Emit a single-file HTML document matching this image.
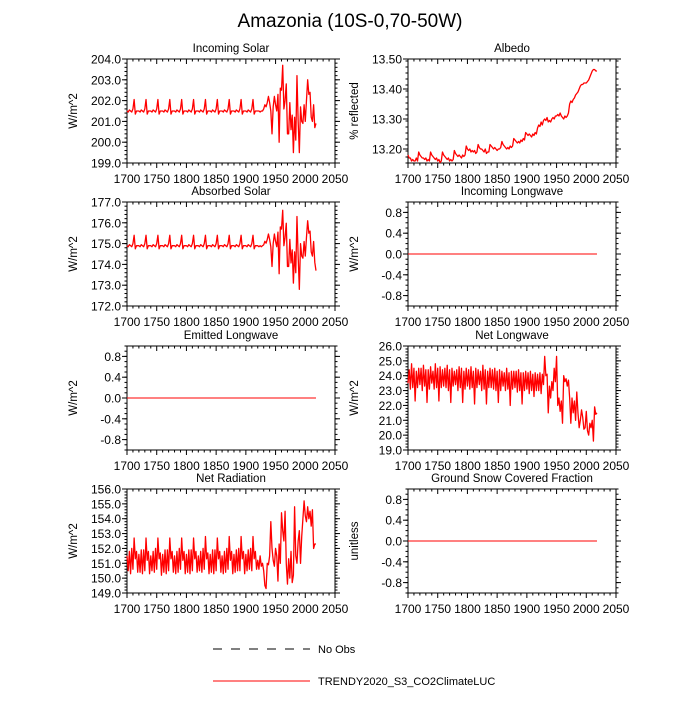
<!DOCTYPE html>
<html><head><meta charset="utf-8"><style>
body{margin:0;background:#fff}
svg text{font-family:"Liberation Sans",sans-serif;fill:#000}
</style></head><body>
<svg id="c" width="700" height="700" xmlns="http://www.w3.org/2000/svg">
<text x="350" y="27" font-size="19" text-anchor="middle">Amazonia (10S-0,70-50W)</text>
<g>
<line x1="213" y1="649" x2="310" y2="649" stroke="#000" stroke-width="1" stroke-dasharray="9,9"/>
<text x="318" y="653" font-size="11">No Obs</text>
<line x1="213" y1="681" x2="310" y2="681" stroke="#f00" stroke-width="1"/>
<text x="318" y="685" font-size="11">TRENDY2020_S3_CO2ClimateLUC</text>
</g>
</svg>
<script>
const incomingSolar=[
201.5,201.45,201.55,201.5,201.45,201.6,202.05,201.35,201.5,201.5,
201.5,201.45,201.55,201.5,201.45,201.6,202.05,201.35,201.5,201.5,
201.5,201.45,201.55,201.5,201.45,201.6,202.05,201.35,201.5,201.5,
201.5,201.45,201.55,201.5,201.45,201.6,202.05,201.35,201.5,201.5,
201.5,201.45,201.55,201.5,201.45,201.6,202.05,201.35,201.5,201.5,
201.5,201.45,201.55,201.5,201.45,201.6,202.05,201.35,201.5,201.5,
201.5,201.45,201.55,201.5,201.45,201.6,202.05,201.35,201.5,201.5,
201.5,201.45,201.55,201.5,201.45,201.6,202.05,201.35,201.5,201.5,
201.5,201.45,201.55,201.5,201.45,201.6,202.05,201.35,201.5,201.5,
201.5,201.45,201.55,201.5,201.45,201.6,202.05,201.35,201.5,201.5,
201.5,201.45,201.55,201.5,201.45,201.6,202.05,201.35,201.5,201.5,
201.5,201.5,201.45,201.5,201.5,
201.6,201.8,201.7,201.9,202.2,201.9,201.5,200.4,201.7,202.2,201.8,201.5,202.3,200.0,202.6,202.5,203.7,201.6,202.0,202.8,200.4,200.4,201.9,200.6,201.3,199.5,201.2,200.1,203.2,201.0,199.5,201.7,201.0,200.9,201.8,201.0,202.0,203.0,202.3,202.4,201.2,201.0,201.8,200.7,200.9];
const absorbedSolar=[
174.9,174.85,174.95,174.9,174.85,175.0,175.4,174.75,174.9,174.9,
174.9,174.85,174.95,174.9,174.85,175.0,175.4,174.75,174.9,174.9,
174.9,174.85,174.95,174.9,174.85,175.0,175.4,174.75,174.9,174.9,
174.9,174.85,174.95,174.9,174.85,175.0,175.4,174.75,174.9,174.9,
174.9,174.85,174.95,174.9,174.85,175.0,175.4,174.75,174.9,174.9,
174.9,174.85,174.95,174.9,174.85,175.0,175.4,174.75,174.9,174.9,
174.9,174.85,174.95,174.9,174.85,175.0,175.4,174.75,174.9,174.9,
174.9,174.85,174.95,174.9,174.85,175.0,175.4,174.75,174.9,174.9,
174.9,174.85,174.95,174.9,174.85,175.0,175.4,174.75,174.9,174.9,
174.9,174.85,174.95,174.9,174.85,175.0,175.4,174.75,174.9,174.9,
174.9,174.85,174.95,174.9,174.85,175.0,175.4,174.75,174.9,174.9,
174.9,174.85,174.9,174.85,174.9,
174.94,175.11,175.02,175.2,175.46,175.2,174.85,173.9,175.0,175.46,175.1,174.85,175.55,173.55,175.8,175.7,176.6,174.9,175.3,175.98,173.9,173.9,175.2,174.07,174.7,173.1,174.6,173.6,176.3,174.4,172.8,175.0,174.4,174.3,175.1,174.4,175.3,176.1,175.5,175.6,174.6,174.4,175.1,174.1,173.7];
const albedo=[
13.18,13.17,13.17,13.16,13.165,13.16,13.16,13.17,13.16,
13.19,13.18,13.175,13.17,13.17,13.165,13.17,13.16,13.165,13.16,
13.19,13.18,13.175,13.17,13.165,13.17,13.16,13.165,13.155,13.16,
13.19,13.18,13.175,13.17,13.165,13.17,13.16,13.165,13.16,13.165,
13.195,13.185,13.18,13.175,13.18,13.175,13.17,13.18,13.175,13.18,
13.21,13.2,13.195,13.2,13.19,13.195,13.19,13.195,13.185,13.19,
13.215,13.205,13.2,13.2,13.195,13.19,13.2,13.185,13.19,13.19,
13.215,13.21,13.205,13.2,13.205,13.2,13.195,13.2,13.2,13.205,
13.225,13.215,13.21,13.205,13.2,13.205,13.2,13.21,13.205,13.21,
13.235,13.23,13.225,13.22,13.225,13.22,13.23,13.225,13.235,13.23,
13.255,13.25,13.245,13.25,13.245,13.24,13.25,13.245,13.255,13.25,
13.27,13.28,13.275,13.29,13.28,13.295,
13.3,13.295,13.305,13.29,13.295,13.29,13.3,13.305,13.3,13.31,13.31,13.315,13.31,13.32,13.31,13.305,13.3,13.31,13.305,13.31,13.32,13.35,13.36,13.355,13.365,13.37,13.38,13.385,13.39,13.4,13.41,13.415,13.415,13.42,13.42,13.42,13.425,13.43,13.44,13.45,13.46,13.465,13.465,13.46,13.46];
const netLongwave=[
23.5,24.4,23.1,24.8,23.2,24.5,22.3,24.3,23.2,24.5,
23.4,24.5,23.0,24.7,23.3,24.4,22.2,24.4,23.1,24.6,
23.5,24.3,23.1,24.8,23.2,24.5,22.3,24.6,23.2,24.4,
23.3,24.5,23.2,24.7,23.0,24.4,22.2,24.5,23.3,24.3,
23.4,24.4,23.0,24.6,23.2,24.5,22.2,24.3,23.1,24.5,
23.3,24.4,23.1,24.6,23.2,24.3,22.1,24.5,23.2,24.4,
23.4,24.3,23.0,24.7,23.1,24.4,22.1,24.3,23.2,24.5,
23.2,24.4,23.1,24.5,23.0,24.3,22.2,24.4,23.0,24.3,
23.3,24.2,23.0,24.5,23.1,24.2,22.0,24.3,23.1,24.3,
23.2,24.3,22.9,24.4,23.0,24.2,22.1,24.2,23.0,24.3,
23.1,24.2,22.8,24.3,23.0,24.1,22.6,24.2,23.0,24.1,
23.0,24.2,22.8,24.1,23.4,
25.3,24.0,24.1,21.5,23.3,22.5,23.6,23.0,24.5,23.6,25.3,22.0,22.5,21.6,22.3,20.8,24.0,23.6,23.8,23.3,23.7,22.5,20.8,22.5,21.5,22.3,21.0,22.9,21.5,20.5,21.0,21.7,21.2,20.4,20.5,21.6,20.3,20.0,20.8,20.5,21.0,19.6,21.9,21.4,21.5];
const netRadiation=[
151.5,150.5,151.8,150.3,152.0,150.6,152.7,151.3,151.8,150.4,
151.6,150.4,151.9,150.3,151.9,150.5,152.7,151.2,151.8,150.3,
151.5,150.5,151.8,150.4,152.0,150.6,152.7,151.3,151.7,150.2,
151.6,150.4,151.9,150.3,151.9,150.5,152.7,151.3,151.8,150.4,
151.5,150.3,151.8,150.4,152.0,150.6,152.7,151.2,151.8,150.3,
151.6,150.4,151.9,150.3,151.9,150.5,152.7,151.3,151.8,150.4,
151.5,150.5,151.8,150.4,152.0,150.6,152.8,151.3,151.7,150.3,
151.6,150.4,151.9,150.3,151.9,150.5,152.7,151.3,151.8,150.4,
151.5,150.3,151.8,150.4,152.0,150.6,152.8,151.2,151.8,150.3,
151.6,150.4,151.9,150.5,152.0,150.5,152.8,151.3,151.8,150.3,
151.6,150.5,151.9,150.6,152.0,150.5,152.8,151.3,151.8,150.6,
151.2,150.6,151.5,150.8,151.0,
150.5,149.5,149.3,151.0,150.9,151.5,153.8,152.0,151.2,150.8,152.0,151.5,149.8,152.3,151.0,154.4,153.2,152.5,154.5,151.0,149.6,151.3,150.0,151.8,149.7,150.2,154.8,151.5,151.0,152.5,153.2,151.0,152.8,154.0,155.2,154.2,153.8,154.8,154.0,154.5,153.5,154.6,152.0,152.3,152.3];
const zeroSeries=[0,0];
const zeroYears=[1700,2018];

const svg=document.getElementById('c');
const NS='http://www.w3.org/2000/svg';
function mk(t,a,parent){const e=document.createElementNS(NS,t);for(const k in a)e.setAttribute(k,a[k]);(parent||svg).appendChild(e);return e;}
function panel(o){
  const g=mk('g',{});
  
  
  const L=o.x,T=o.y,W=208,H=104;
  const xs=v=>L+(v-1700)/350*W;
  const ys=v=>T+H-(v-o.ymin)/(o.ymax-o.ymin)*H;
  for(let yr=1700;yr<=2050;yr+=10){
    const X=xs(yr),maj=yr%50===0,len=maj?5:2.5;
    mk('line',{x1:X,x2:X,y1:T+H,y2:T+H+len,stroke:'#000','stroke-width':1},g);
    mk('line',{x1:X,x2:X,y1:T,y2:T+len,stroke:'#000','stroke-width':1},g);
    if(maj){const t=mk('text',{x:X,y:T+H+20,'font-size':12,'text-anchor':'middle'},g);t.textContent=yr;
      
      }
  }
  for(let v=o.ymin;v<=o.ymax+1e-9;v+=o.minor){
    const Y=ys(v);if(Y<T-0.1||Y>T+H+0.1)continue;
    mk('line',{x1:L,x2:L-2.5,y1:Y,y2:Y,stroke:'#000','stroke-width':1},g);
    mk('line',{x1:L+W,x2:L+W+2.5,y1:Y,y2:Y,stroke:'#000','stroke-width':1},g);
  }
  o.ticks.forEach((v,i)=>{
    const Y=ys(v);
    mk('line',{x1:L,x2:L-5,y1:Y,y2:Y,stroke:'#000','stroke-width':1},g);
    mk('line',{x1:L+W,x2:L+W+5,y1:Y,y2:Y,stroke:'#000','stroke-width':1},g);
    const t=mk('text',{x:L-6,y:Y+4.5,'font-size':12,'text-anchor':'end'},g);t.textContent=o.labels[i];
    
    
  });
  mk('rect',{x:L,y:T,width:W,height:H,fill:'none',stroke:'#000','stroke-width':1},g);
  const tt=mk('text',{x:L+W/2,y:T-7,'font-size':11.5,'text-anchor':'middle'},g);tt.textContent=o.title;
  
  
  const yt=mk('text',{x:0,y:0,'font-size':11.5,'text-anchor':'middle',transform:`translate(${L-50},${T+H/2}) rotate(-90)`},g);yt.textContent=o.ytitle;
  
  
  const yrs=o.years||o.data.map((_,i)=>1700+2*i);
  const pts=o.data.map((v,i)=>xs(yrs[i]).toFixed(2)+','+ys(v).toFixed(2)).join(' ');
  const pl=mk('polyline',{points:pts,fill:'none',stroke:'#f00','stroke-width':o.sw||1.3,'stroke-linejoin':'round'},g);
  
  
}
const zt=[-0.8,-0.4,0,0.4,0.8],zl=['-0.8','-0.4','0.0','0.4','0.8'];
panel({name:'incoming-solar',x:127,y:59,ymin:199,ymax:204,minor:0.2,ticks:[199,200,201,202,203,204],labels:['199.0','200.0','201.0','202.0','203.0','204.0'],title:'Incoming Solar',ytitle:'W/m^2',data:incomingSolar});
panel({name:'albedo',x:408,y:59,ymin:13.1533,ymax:13.5,minor:0.02,ticks:[13.2,13.3,13.4,13.5],labels:['13.20','13.30','13.40','13.50'],title:'Albedo',ytitle:'% reflected',data:albedo});
panel({name:'absorbed-solar',x:127,y:202,ymin:172,ymax:177,minor:0.2,ticks:[172,173,174,175,176,177],labels:['172.0','173.0','174.0','175.0','176.0','177.0'],title:'Absorbed Solar',ytitle:'W/m^2',data:absorbedSolar});
panel({name:'incoming-longwave',x:408,y:202,ymin:-1,ymax:1,minor:0.1,ticks:zt,labels:zl,title:'Incoming Longwave',ytitle:'W/m^2',data:zeroSeries,years:zeroYears,sw:1});
panel({name:'emitted-longwave',x:127,y:346,ymin:-1,ymax:1,minor:0.1,ticks:zt,labels:zl,title:'Emitted Longwave',ytitle:'W/m^2',data:zeroSeries,years:zeroYears,sw:1});
panel({name:'net-longwave',x:408,y:346,ymin:19,ymax:26,minor:0.2,ticks:[19,20,21,22,23,24,25,26],labels:['19.0','20.0','21.0','22.0','23.0','24.0','25.0','26.0'],title:'Net Longwave',ytitle:'W/m^2',data:netLongwave});
panel({name:'net-radiation',x:127,y:489,ymin:149,ymax:156,minor:0.2,ticks:[149,150,151,152,153,154,155,156],labels:['149.0','150.0','151.0','152.0','153.0','154.0','155.0','156.0'],title:'Net Radiation',ytitle:'W/m^2',data:netRadiation});
panel({name:'ground-snow-fraction',x:408,y:489,ymin:-1,ymax:1,minor:0.1,ticks:zt,labels:zl,title:'Ground Snow Covered Fraction',ytitle:'unitless',data:zeroSeries,years:zeroYears,sw:1});
</script>
</body></html>
